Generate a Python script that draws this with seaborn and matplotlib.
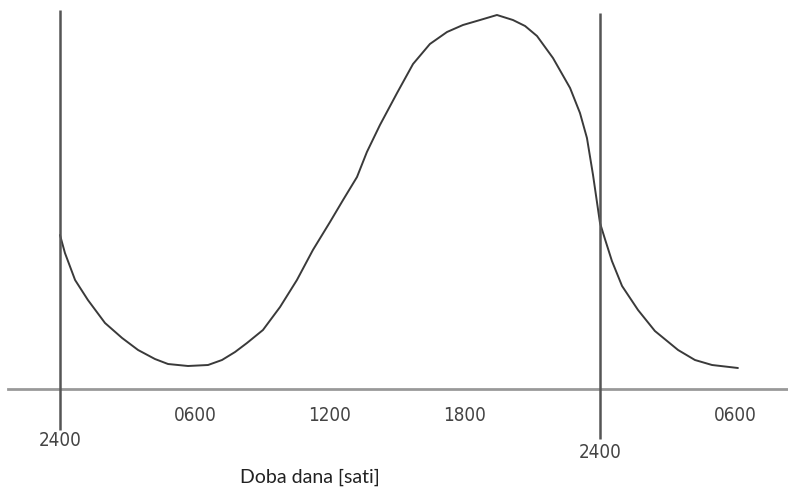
import matplotlib
matplotlib.use("Agg")
import matplotlib.pyplot as plt
import seaborn as sns
import pandas as pd

# Data: hours since midnight (day 1) and relative level (arbitrary units)
hours = [0.00, 0.22, 0.67, 1.24, 2.00, 2.76, 3.47, 4.22, 4.80, 5.69, 6.58,
         7.20, 7.78, 8.31, 9.02, 9.78, 10.53, 11.24, 12.00, 12.58, 13.20,
         13.64, 14.22, 14.98, 15.69, 16.44, 17.20, 17.91, 18.67, 19.42,
         20.13, 20.67, 21.20, 21.91, 22.67, 23.11, 23.42, 23.69, 24.00,
         24.22, 24.53, 24.98, 25.69, 26.44, 27.47, 28.22, 28.98, 30.13]
level = [154, 136, 109, 89, 66, 51, 39, 30, 25, 23, 24,
         29, 37, 46, 59, 82, 109, 139, 167, 189, 212,
         237, 264, 296, 325, 345, 357, 364, 369, 374,
         369, 363, 353, 331, 301, 276, 251, 214, 166,
         150, 128, 103, 79, 58, 39, 29, 24, 21]

tick_pos = [6, 12, 18, 30]
tick_labels = ["0600", "1200", "1800", "0600"]
midnight_pos = [0, 24]
midnight_labels = ["2400", "2400"]
midnight_top = [379, 376]
midnight_bottom = [-41, -50]
xlabel = "Doba dana [sati]"

df = pd.DataFrame({"h": hours, "v": level})

sns.set_style("white")
fig = plt.figure(figsize=(7.88, 4.92), dpi=100)
ax = fig.add_axes([8 / 788, (492 - 389) / 492, 780 / 788, 389 / 492])

sns.lineplot(data=df, x="h", y="v", ax=ax, color="#3a3a3a", linewidth=1.4)

ax.set_xlim(-52 / 22.5, 728 / 22.5)
ax.set_ylim(0, 389)

for x, top, bot in zip(midnight_pos, midnight_top, midnight_bottom):
    ax.vlines(x, bot, top, color="#555555", linewidth=1.8, clip_on=False, zorder=3)

for s in ["top", "right", "left"]:
    ax.spines[s].set_visible(False)
ax.spines["bottom"].set_color("#999999")
ax.spines["bottom"].set_linewidth(2)

tick_font = ["DejaVu Sans"]
ax.set_xticks(tick_pos)
ax.set_xticklabels(tick_labels, fontsize=13.5, color="#444444", family=tick_font,
                   fontstretch="condensed")
ax.tick_params(axis="x", length=8, width=1.2, color="#777777", pad=4, direction="out")
ax.set_yticks([])
ax.set_xlabel("")
ax.set_ylabel("")

offsets = [-52, -64]
for x, lab, off in zip(midnight_pos, midnight_labels, offsets):
    ax.annotate(lab, xy=(x, 0), xycoords="data", xytext=(0, off),
                textcoords="offset pixels", ha="center", va="center",
                fontsize=13.5, color="#444444", family=tick_font,
                fontstretch="condensed", annotation_clip=False)

fig.text(310 / 788, 1 - 477 / 492, xlabel, ha="center", va="center",
         fontsize=14, color="#222222", family=["Lato", "DejaVu Sans"])

fig.savefig("out.png", dpi=100, facecolor="white")
